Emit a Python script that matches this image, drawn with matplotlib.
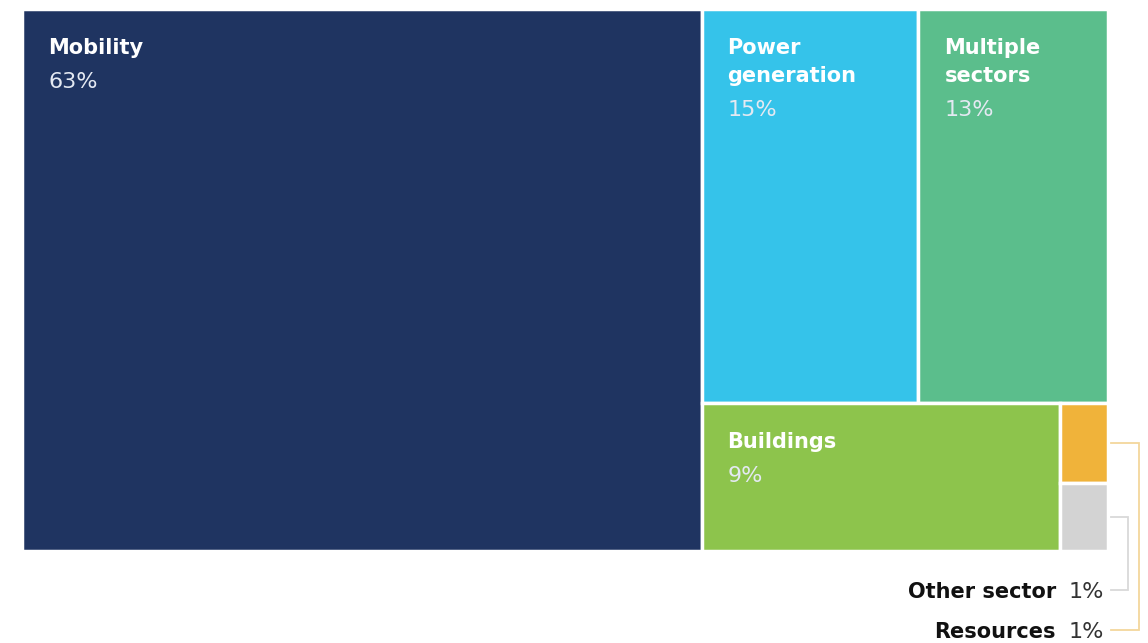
import matplotlib
matplotlib.use("Agg")
import matplotlib.pyplot as plt
from matplotlib.patches import Rectangle

plt.rcParams['font.family'] = ['DejaVu Sans']

# ---- data ----
sectors = ["Mobility", "Power generation", "Multiple sectors", "Buildings", "Resources", "Other sector"]
sizes = [61.7, 14.3, 12.5, 8.9, 0.65, 0.55]          # estimated areas (%)
pct_labels = ["63%", "15%", "13%", "9%", "1%", "1%"]
name_lines = [["Mobility"], ["Power", "generation"], ["Multiple", "sectors"], ["Buildings"], [], []]
colors = ["#1f3461", "#35c3ea", "#5bbe8c", "#8dc44c", "#f0b33a", "#d3d3d3"]

W, H = 1148, 643
fig = plt.figure(figsize=(W / 100, H / 100), dpi=100)
ax = fig.add_axes([0, 0, 1, 1])
ax.set_xlim(0, W)
ax.set_ylim(H, 0)
ax.axis("off")

# treemap bounding box (pixel axes)
X0, Y0, X1, Y1 = 22, 9, 1108, 551
TW, TH = X1 - X0, Y1 - Y0
total = sum(sizes)

rects = {}
wm = TW * sizes[0] / total
rects[0] = (X0, Y0, wm, TH)
rx, rw = X0 + wm, TW - wm
rest = sum(sizes[1:])
top = sizes[1] + sizes[2]
th = TH * top / rest
rects[1] = (rx, Y0, rw * sizes[1] / top, th)
rects[2] = (rx + rw * sizes[1] / top, Y0, rw * sizes[2] / top, th)
by, bh = Y0 + th, TH - th
bottom = sum(sizes[3:])
bw = rw * sizes[3] / bottom
rects[3] = (rx, by, bw, bh)
sx, sw = rx + bw, rw - bw
small = sizes[4] + sizes[5]
rh = bh * sizes[4] / small
rects[4] = (sx, by, sw, rh)
rects[5] = (sx, by + rh, sw, bh - rh)

for i in range(len(sectors)):
    x, y, w, h = rects[i]
    ax.add_patch(Rectangle((x, y), w, h, facecolor=colors[i], edgecolor="white", linewidth=2.5))
    lines = name_lines[i]
    if lines:
        ty = y + 37
        for ln in lines:
            ax.text(x + 26, ty, ln, color="white", fontsize=15, fontweight="bold",
                    ha="left", va="center_baseline")
            ty += 28
        ax.text(x + 26, ty + 6, pct_labels[i], color="#e4e9f2", fontsize=16,
                ha="left", va="center_baseline")

# callouts for small tiles
callouts = [(5, 590, 20, "#d9d9d9"), (4, 630, 31, "#f3d79c")]
for i, ly, off, lc in callouts:
    x, y, w, h = rects[i]
    ey = y + h / 2
    ex = x + w
    vx = ex + off
    ax.plot([ex + 3, vx, vx, ex + 3], [ey, ey, ly, ly], color=lc, linewidth=1.3,
            solid_joinstyle="miter")
    ax.text(1104, ly, pct_labels[i], color="#333333", fontsize=16, ha="right",
            va="center_baseline")
    ax.text(1056, ly, sectors[i], color="#111111", fontsize=15, fontweight="bold",
            ha="right", va="center_baseline")

fig.savefig("out.png", dpi=100)
